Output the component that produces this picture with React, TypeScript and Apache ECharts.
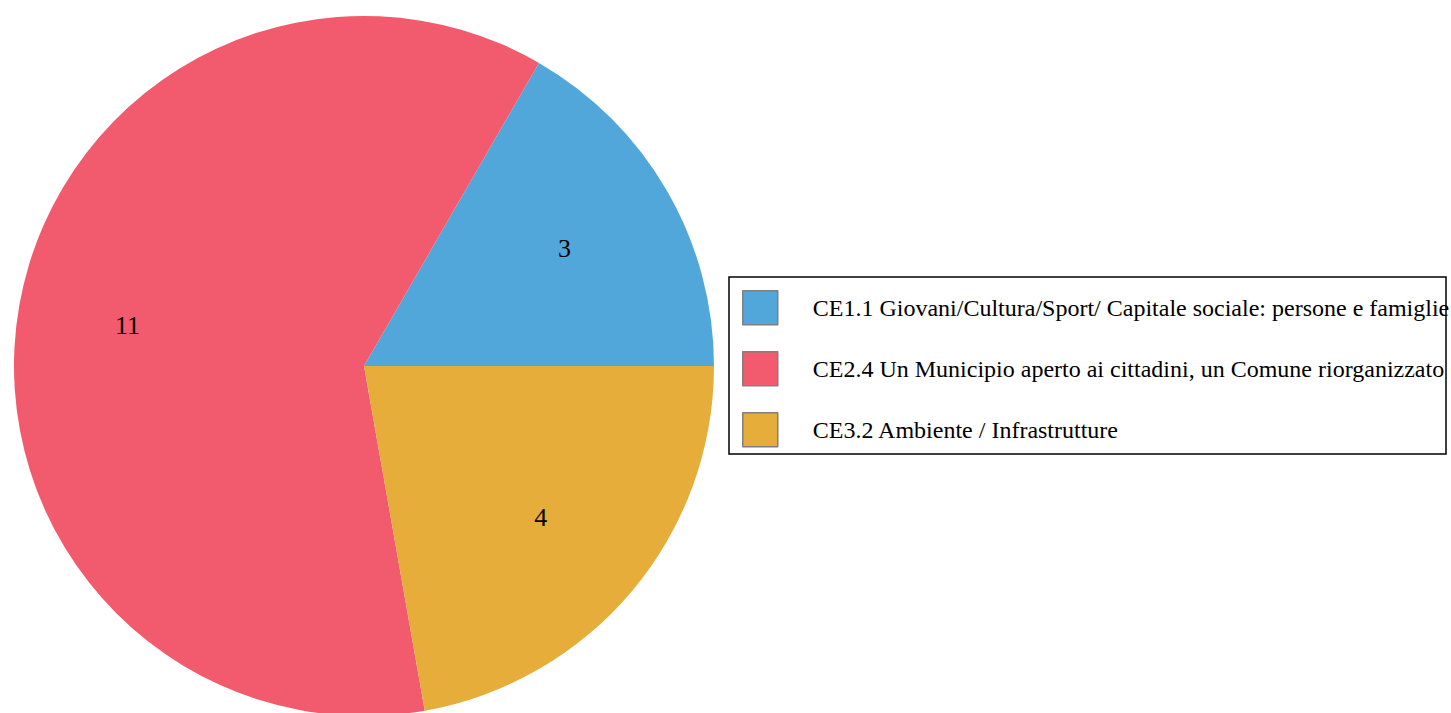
import React, { useEffect, useRef } from "react";
import * as echarts from "echarts";

const categories = [
  "CE1.1 Giovani/Cultura/Sport/ Capitale sociale: persone e famiglie",
  "CE2.4 Un Municipio aperto ai cittadini, un Comune riorganizzato",
  "CE3.2 Ambiente / Infrastrutture",
];
const values = [3, 11, 4];
const colors = ["#52A7DA", "#F15B6D", "#E7AD3B"];

export default function App() {
  const ref = useRef<HTMLDivElement>(null);
  useEffect(() => {
    document.body.style.margin = "0";
    const chart = echarts.init(ref.current!, null, { renderer: "svg" });
    const data = categories.map((name, i) => ({
      name,
      value: values[i],
      itemStyle: { color: colors[i] },
    }));
    chart.setOption({
      animation: false,
      legend: {
        orient: "vertical",
        left: 742,
        top: 290,
        padding: 0,
        itemWidth: 35,
        itemHeight: 34,
        itemGap: 25.5,
        icon: "rect",
        selectedMode: false,
        itemStyle: { borderColor: "#808080", borderWidth: 1.5 },
        textStyle: {
          fontFamily: "Liberation Serif",
          fontSize: 24,
          color: "#000",
          padding: [8, 0, 0, 30],
        },
        data: categories,
      },
      graphic: [
        {
          type: "rect",
          shape: { x: 729, y: 277, width: 717, height: 177 },
          style: { fill: "none", stroke: "#000", lineWidth: 1.5 },
          z: 10,
        },
      ],
      series: [
        {
          type: "pie",
          center: [364, 366],
          radius: [0, 350],
          startAngle: 0,
          clockwise: false,
          label: { show: false },
          labelLine: { show: false },
          emphasis: { disabled: true },
          itemStyle: { borderWidth: 0 },
          data,
        },
        {
          type: "pie",
          center: [364, 366],
          radius: [0, 466],
          startAngle: 0,
          clockwise: false,
          silent: true,
          legendHoverLink: false,
          itemStyle: { color: "rgba(0,0,0,0)", borderWidth: 0 },
          label: {
            show: true,
            position: "inside",
            formatter: "{c}",
            fontFamily: "Liberation Serif",
            fontSize: 26,
            color: "#000",
            offset: [-4, 0],
          },
          labelLine: { show: false },
          emphasis: { disabled: true },
          data: categories.map((name, i) => ({ name: name + " ", value: values[i] })),
        },
      ],
    });
    return () => chart.dispose();
  }, []);
  return <div ref={ref} style={{ width: 1451, height: 713 }} />;
}
